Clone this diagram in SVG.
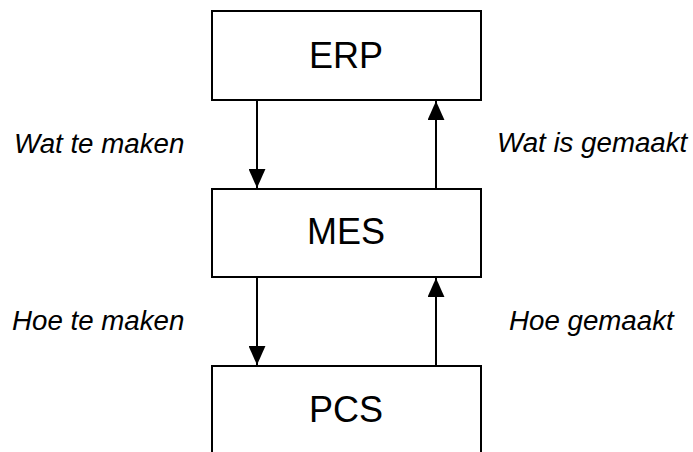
<svg xmlns="http://www.w3.org/2000/svg" width="693" height="452" viewBox="0 0 693 452">
  <style>
    .box { fill: #ffffff; stroke: #000000; stroke-width: 2; }
    .name { font-family: "Liberation Sans", Arial, sans-serif; font-size: 36px; text-anchor: middle; fill: #000000; }
    .flow { fill: none; stroke: #000000; stroke-width: 2; }
    .label { font-family: "Liberation Sans", Arial, sans-serif; font-size: 27.7px; font-style: italic; fill: #000000; }
  </style>
  <defs>
    <marker id="head" viewBox="0 0 18 16" refX="18" refY="8" markerWidth="19" markerHeight="17" markerUnits="userSpaceOnUse" orient="auto">
      <path d="M0,0 L18,8 L0,16 Z" fill="#000000"/>
    </marker>
  </defs>
  <rect width="693" height="452" fill="#ffffff"/>

  <g id="erp">
    <rect class="box" x="212" y="11" width="269" height="89"/>
    <text class="name" x="346" y="68">ERP</text>
  </g>
  <g id="mes">
    <rect class="box" x="212" y="189" width="269" height="88"/>
    <text class="name" x="346" y="244">MES</text>
  </g>
  <g id="pcs">
    <rect class="box" x="212" y="366" width="269" height="100"/>
    <text class="name" x="346" y="422">PCS</text>
  </g>

  <g id="connectors">
    <line class="flow" x1="257" y1="100" x2="257" y2="188" marker-end="url(#head)"/>
    <line class="flow" x1="436" y1="189" x2="436" y2="101" marker-end="url(#head)"/>
    <line class="flow" x1="257" y1="277" x2="257" y2="365" marker-end="url(#head)"/>
    <line class="flow" x1="436" y1="366" x2="436" y2="278" marker-end="url(#head)"/>
  </g>

  <g id="labels">
    <text class="label" x="14" y="153">Wat te maken</text>
    <text class="label" x="497" y="152">Wat is gemaakt</text>
    <text class="label" x="12" y="330">Hoe te maken</text>
    <text class="label" x="509" y="330">Hoe gemaakt</text>
  </g>
</svg>
